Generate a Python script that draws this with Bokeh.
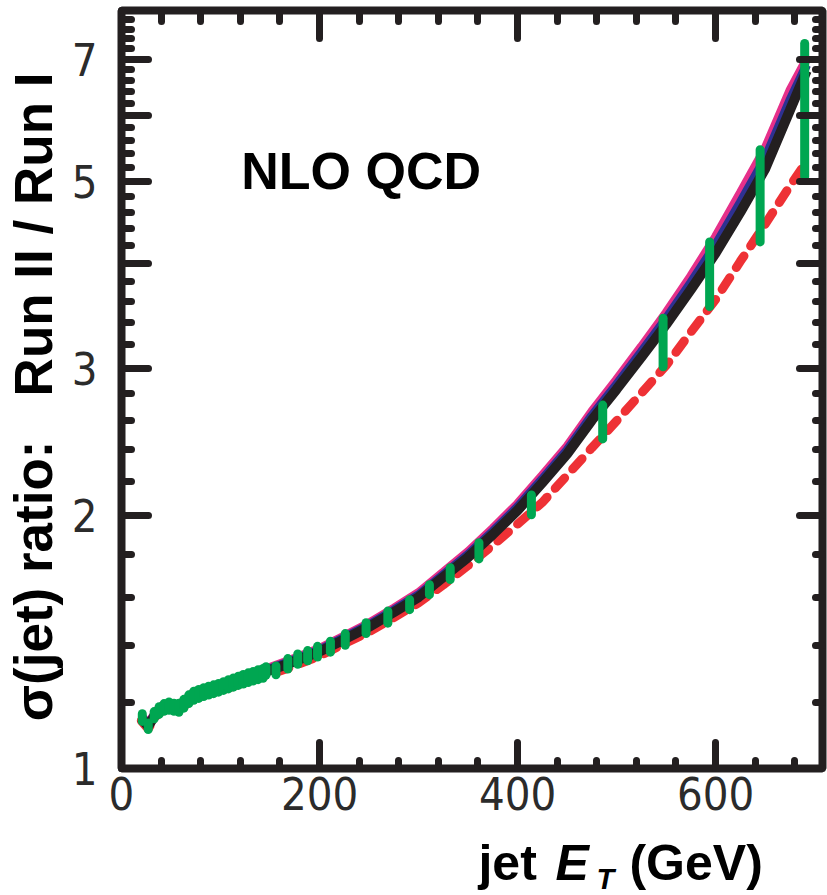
from bokeh.plotting import figure
from bokeh.layouts import column
from bokeh.models import Range1d, FixedTicker, LinearAxis, LogAxis, Label
from bokeh.embed import file_html
from bokeh.resources import INLINE

# ---------------- data ----------------
et_grid = [20, 27, 35, 42, 50, 57, 65, 72, 80, 100, 120, 145, 170, 200, 225, 250,
           275, 300, 325, 350, 375, 400, 425, 450, 475, 500, 525, 550, 575, 600,
           625, 650, 675, 692]
ratio_black = [1.148, 1.123, 1.163, 1.183, 1.188, 1.182, 1.200, 1.222, 1.230, 1.250,
               1.274, 1.303, 1.335, 1.378, 1.425, 1.475, 1.535, 1.600, 1.690, 1.785,
               1.900, 2.030, 2.190, 2.370, 2.600, 2.830, 3.090, 3.380, 3.720, 4.110,
               4.600, 5.180, 6.080, 6.780]
ratio_blue = [1.152, 1.127, 1.167, 1.187, 1.192, 1.186, 1.204, 1.226, 1.234, 1.255,
              1.279, 1.308, 1.341, 1.384, 1.432, 1.483, 1.544, 1.610, 1.702, 1.799,
              1.916, 2.049, 2.212, 2.395, 2.632, 2.868, 3.135, 3.435, 3.790, 4.205,
              4.725, 5.330, 6.250, 6.890]
ratio_magenta = [1.155, 1.130, 1.170, 1.190, 1.195, 1.190, 1.208, 1.230, 1.238, 1.259,
                 1.283, 1.313, 1.346, 1.390, 1.438, 1.490, 1.552, 1.620, 1.713, 1.812,
                 1.932, 2.067, 2.234, 2.420, 2.662, 2.905, 3.180, 3.490, 3.860, 4.300,
                 4.850, 5.480, 6.420, 7.000]
ratio_red = [1.140, 1.115, 1.155, 1.175, 1.180, 1.174, 1.191, 1.212, 1.220, 1.238,
             1.261, 1.289, 1.319, 1.362, 1.408, 1.455, 1.513, 1.575, 1.655, 1.745,
             1.845, 1.955, 2.075, 2.235, 2.410, 2.595, 2.800, 3.020, 3.310, 3.620,
             4.020, 4.450, 4.940, 5.290]

green_et = [21, 27, 33, 38, 43, 48, 53, 58, 63, 68, 73, 78, 83, 88, 93, 98, 103, 108,
            113, 118, 123, 128, 133, 138, 143, 146, 156, 168, 178, 188, 198, 211, 226,
            247, 269, 291, 311, 332, 361, 414, 486, 547, 594, 645, 690]
green_lo = [1.138, 1.113, 1.146, 1.160, 1.170, 1.173, 1.170, 1.167, 1.180, 1.195, 1.206,
            1.212, 1.218, 1.223, 1.228, 1.233, 1.239, 1.244, 1.250, 1.256, 1.261, 1.266,
            1.271, 1.276, 1.281, 1.292, 1.293, 1.314, 1.331, 1.344, 1.358, 1.376, 1.402,
            1.448, 1.490, 1.546, 1.611, 1.679, 1.777, 2.006, 2.470, 3.010, 3.550, 4.240,
            5.070]
green_hi = [1.162, 1.133, 1.169, 1.185, 1.195, 1.200, 1.196, 1.196, 1.209, 1.224, 1.236,
            1.242, 1.248, 1.253, 1.258, 1.263, 1.269, 1.276, 1.282, 1.288, 1.294, 1.300,
            1.305, 1.311, 1.316, 1.322, 1.325, 1.352, 1.369, 1.382, 1.398, 1.418, 1.448,
            1.492, 1.540, 1.589, 1.656, 1.735, 1.858, 2.118, 2.710, 3.440, 4.240, 5.460,
            7.310]

x_major = [0, 200, 400, 600]
x_minor = [40, 80, 120, 160, 240, 280, 320, 360, 440, 480, 520, 560, 640, 680]
y_major = [1, 2, 3, 4, 5, 6, 7, 8]
y_minor = [1.2, 1.4, 1.6, 1.8, 2.2, 2.4, 2.6, 2.8, 3.2, 3.4, 3.6, 3.8, 4.2, 4.4, 4.6,
           4.8, 5.2, 5.4, 5.6, 5.8, 6.2, 6.4, 6.6, 6.8, 7.2, 7.4, 7.6, 7.8]
y_tick_text = {1: "1", 2: "2", 3: "3", 4: "", 5: "5", 6: "", 7: "7", 8: ""}

INK = "#231f20"
TICK_FONT = "Liberation Sans Narrow, DejaVu Sans Condensed"
BOLD_FONT = "Liberation Sans"
NB = "\u00a0"

p = figure(width=827, height=828, x_range=Range1d(0, 708), y_range=Range1d(1, 8),
           y_axis_type="log", output_backend="svg", toolbar_location=None,
           min_border_left=119, min_border_right=5, min_border_top=10,
           min_border_bottom=60)
p.grid.visible = False
p.outline_line_color = INK
p.outline_line_width = 8
p.background_fill_color = "white"
p.border_fill_color = "white"


def style_axis(ax, maj_in, min_in, show_labels):
    ax.axis_line_color = None
    ax.major_tick_in = maj_in
    ax.major_tick_out = 0
    ax.minor_tick_in = min_in
    ax.minor_tick_out = 0
    ax.major_tick_line_width = 7
    ax.minor_tick_line_width = 7
    ax.major_tick_line_color = INK
    ax.minor_tick_line_color = INK
    ax.major_tick_line_cap = "round"
    ax.minor_tick_line_cap = "round"
    if show_labels:
        ax.major_label_text_font = TICK_FONT
        ax.major_label_text_font_size = "45px"
        ax.major_label_text_color = "#2b2b2b"
    else:
        ax.major_label_text_color = None
        ax.major_label_text_font_size = "1px"
        ax.major_label_standoff = 0


xt = FixedTicker(ticks=x_major, minor_ticks=x_minor)
yt = FixedTicker(ticks=y_major, minor_ticks=y_minor)

xb = p.xaxis[0]
xb.ticker = xt
style_axis(xb, 26, 8, True)
xb.major_label_standoff = 8

yl = p.yaxis[0]
yl.ticker = yt
style_axis(yl, 27, 10, True)
yl.major_label_overrides = y_tick_text
yl.major_label_standoff = 24
yl.axis_label = "\u03c3(jet) ratio:" + NB * 3 + "Run II / Run I" + NB
yl.axis_label_text_font = BOLD_FONT
yl.axis_label_text_font_style = "bold"
yl.axis_label_text_font_size = "53px"
yl.axis_label_text_color = "black"
yl.axis_label_standoff = 6

xa = LinearAxis(ticker=xt)
style_axis(xa, 28, 11, False)
p.add_layout(xa, "above")

yr = LogAxis(ticker=yt)
style_axis(yr, 23, 7, False)
p.add_layout(yr, "right")

# curves
p.line(et_grid, ratio_magenta, line_color="#e6308a", line_width=9)
p.line(et_grid, ratio_blue, line_color="#2e3192", line_width=9)
p.line(et_grid, ratio_red, line_color="#ee3135", line_width=9,
       line_dash="14 12", line_cap="round")
p.line(et_grid, ratio_black, line_color=INK, line_width=10)
p.segment(x0=green_et, y0=green_lo, x1=green_et, y1=green_hi,
          line_color="#00a651", line_width=9, line_cap="round")

p.add_layout(Label(x=125, y=4.84, x_offset=-4, y_offset=23, text="NLO QCD",
                   text_font=BOLD_FONT, text_font_style="bold",
                   text_font_size="52px", text_color="black",
                   text_baseline="alphabetic"))

# strip below the plot that carries the x-axis title
q = figure(width=827, height=67, x_range=p.x_range, y_range=Range1d(0, 67),
           output_backend="svg", toolbar_location=None,
           min_border_left=119, min_border_right=5, min_border_top=0,
           min_border_bottom=0)
q.axis.visible = False
q.grid.visible = False
q.outline_line_color = None

xlab_x = 360.5
xlab_y = 15
q.add_layout(Label(x=xlab_x, y=xlab_y, y_offset=18, text="jet", text_font=BOLD_FONT,
                   text_font_style="bold", text_font_size="50px",
                   text_color="black", text_baseline="alphabetic"))
q.add_layout(Label(x=xlab_x, y=xlab_y, x_offset=77, y_offset=18, text="E",
                   text_font=BOLD_FONT, text_font_style="bold italic",
                   text_font_size="50px", text_color="black",
                   text_baseline="alphabetic"))
q.add_layout(Label(x=xlab_x, y=xlab_y, x_offset=118, y_offset=2, text="T",
                   text_font=BOLD_FONT, text_font_style="bold italic",
                   text_font_size="29px", text_color="black",
                   text_baseline="alphabetic"))
q.add_layout(Label(x=xlab_x, y=xlab_y, x_offset=151, y_offset=18, text="(GeV)",
                   text_font=BOLD_FONT, text_font_style="bold",
                   text_font_size="50px", text_color="black",
                   text_baseline="alphabetic"))

layout = column(p, q, spacing=0)
open("out.html", "w").write(file_html(layout, INLINE))
